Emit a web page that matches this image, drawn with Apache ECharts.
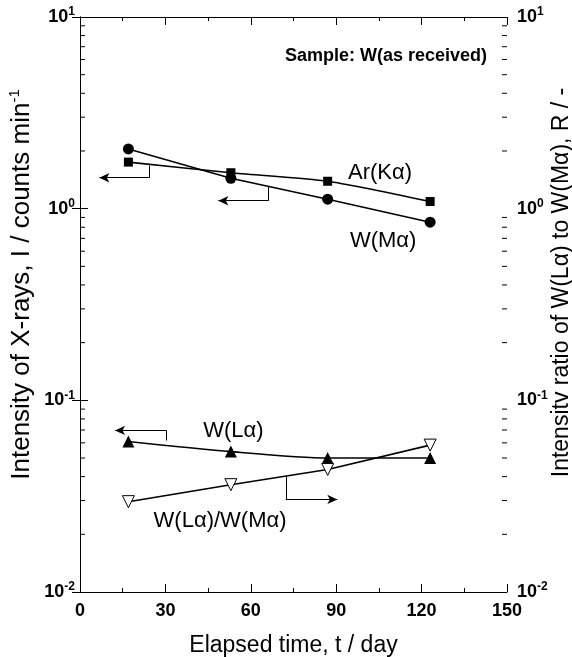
<!DOCTYPE html>
<html>
<head>
<meta charset="utf-8">
<script src="https://cdn.jsdelivr.net/npm/echarts@6/dist/echarts.min.js"></script>
<style>html,body{margin:0;padding:0;background:#fff;}#c{width:572px;height:657px;}</style>
</head>
<body>
<div id="c"></div>
<script>
// ---- data ----
const days = [17, 53, 87, 123];
const wMa = [2.05, 1.44, 1.12, 0.85];
const arKa = [1.75, 1.54, 1.39, 1.09];
const wLa = [0.061, 0.054, 0.050, 0.050];
const ratioLaMa = [0.0296, 0.0363, 0.0436, 0.0584];
const xTicks = [0, 30, 60, 90, 120, 150];
const yTicks = [0.01, 0.1, 1, 10];
// arrows (polylines in data coords; last point is the arrow tip)
const arrowAr = [[24.3, 1.68], [24.3, 1.45], [6.8, 1.45]];
const arrowWMa = [[66.3, 1.31], [66.3, 1.10], [48.6, 1.10]];
const arrowWLa = [[30.3, 0.0617], [30.3, 0.0697], [12.3, 0.0697]];
const arrowRatio = [[72.3, 0.0402], [72.3, 0.0304], [90.4, 0.0304]];
// annotation labels
const labelTexts = ['Ar(Kα)', 'W(Mα)', 'W(Lα)', 'W(Lα)/W(Mα)'];
const labelPos = [[105.4, 1.545], [106.5, 0.682], [53.9, 0.069], [49.2, 0.0234]];
const minorMult = [2, 3, 4, 5, 6, 7, 8, 9];
const minorDecades = [0.01, 0.1, 1];

const FONT = 'Liberation Sans, Arial, sans-serif';
const chart = echarts.init(document.getElementById('c'), null, {renderer: 'canvas'});

function pts(xs, ys) { return xs.map((x, i) => [x, ys[i]]); }
function arrowLines(poly) {
  const segs = [];
  for (let i = 0; i < poly.length - 1; i++) {
    const last = i === poly.length - 2;
    segs.push([
      {coord: poly[i], symbol: 'none'},
      {coord: poly[i + 1], symbol: last ? 'arrow' : 'none', symbolSize: last ? [7, 10] : 0}
    ]);
  }
  return segs;
}
const markLineBase = {
  silent: true, animation: false,
  lineStyle: {color: '#000', width: 1, type: 'solid'},
  label: {show: false}, emphasis: {disabled: true}
};
const minorVals = [];
minorDecades.forEach(d => minorMult.forEach(m => minorVals.push([0, m * d])));

function logLabel(v) {
  const e = Math.round(Math.log10(v));
  return '{b|10}{s|' + e + '}';
}
const labelRich = {
  b: {fontSize: 18, fontWeight: 'bold', fontFamily: FONT, color: '#000'},
  s: {fontSize: 12, fontWeight: 'bold', fontFamily: FONT, color: '#000', padding: [0, 0, 10, 0]}
};

const option = {
  animation: false,
  backgroundColor: '#fff',
  title: {
    text: 'Sample: W(as received)', right: 80, top: 42,
    textStyle: {fontSize: 18, fontWeight: 'bold', fontFamily: FONT, color: '#000'}
  },
  grid: {left: 80, right: 65, top: 17, bottom: 65, containLabel: false, outerBoundsMode: 'none'},
  xAxis: [{
    type: 'value', min: 0, max: 150, interval: 30, position: 'bottom',
    name: 'Elapsed time, t / day', nameLocation: 'middle', nameGap: 42, nameMoveOverlap: false,
    nameTextStyle: {fontSize: 23, fontFamily: FONT, color: '#000'},
    axisLine: {lineStyle: {color: '#000', width: 1}},
    axisTick: {inside: true, length: 8, lineStyle: {color: '#000'}},
    minorTick: {show: true, splitNumber: 2, length: 4, lineStyle: {color: '#000'}},
    splitLine: {show: false},
    axisLabel: {fontSize: 18, fontWeight: 'bold', fontFamily: FONT, color: '#000', margin: 10}
  }, {
    type: 'value', min: 0, max: 150, interval: 30, position: 'top',
    axisLine: {lineStyle: {color: '#000', width: 1}},
    axisTick: {inside: true, length: 8, lineStyle: {color: '#000'}},
    minorTick: {show: true, splitNumber: 2, length: 4, lineStyle: {color: '#000'}},
    splitLine: {show: false}, axisLabel: {show: false}
  }],
  yAxis: [{
    type: 'log', logBase: 10, min: 0.01, max: 10, splitNumber: 3, position: 'left',
    name: '{n|Intensity of X-rays, I / counts min}{s|-1}',
    nameLocation: 'middle', nameGap: 44, nameRotate: 90, nameMoveOverlap: false,
    nameTextStyle: {
      padding: [0, 0, 0, 40],
      rich: {
        n: {fontSize: 26, fontFamily: FONT, color: '#000'},
        s: {fontSize: 15, fontFamily: FONT, color: '#000', padding: [0, 0, 14, 0]}
      }
    },
    axisLine: {lineStyle: {color: '#000', width: 1}},
    axisTick: {inside: true, length: 8, lineStyle: {color: '#000'}},
    splitLine: {show: false},
    axisLabel: {formatter: logLabel, rich: labelRich, margin: 5}
  }, {
    type: 'log', logBase: 10, min: 0.01, max: 10, splitNumber: 3, position: 'right',
    name: 'Intensitv ratio of W(Lα) to W(Mα), R / -',
    nameLocation: 'middle', nameGap: 43, nameRotate: 90, nameMoveOverlap: false,
    nameTextStyle: {fontSize: 23, fontFamily: FONT, color: '#000', padding: [0, 0, 0, 44]},
    axisLine: {lineStyle: {color: '#000', width: 1}},
    axisTick: {inside: true, length: 8, lineStyle: {color: '#000'}},
    splitLine: {show: false},
    axisLabel: {formatter: logLabel, rich: labelRich, margin: 10}
  }],
  series: [{
    name: 'W(Mα)', type: 'line', data: pts(days, wMa),
    symbol: 'circle', symbolSize: 11,
    itemStyle: {color: '#000'}, lineStyle: {color: '#000', width: 1.6},
    markLine: Object.assign({data: arrowLines(arrowWMa)}, markLineBase)
  }, {
    name: 'Ar(Kα)', type: 'line', data: pts(days, arKa), smooth: 0.2,
    symbol: 'rect', symbolSize: 9,
    itemStyle: {color: '#000'}, lineStyle: {color: '#000', width: 1.6},
    markLine: Object.assign({data: arrowLines(arrowAr)}, markLineBase)
  }, {
    name: 'W(Lα)', type: 'line', data: pts(days, wLa), smooth: 0.25,
    symbol: 'triangle', symbolSize: 12,
    itemStyle: {color: '#000'}, lineStyle: {color: '#000', width: 1.6},
    markLine: Object.assign({data: arrowLines(arrowWLa)}, markLineBase)
  }, {
    name: 'W(Lα)/W(Mα)', type: 'line', yAxisIndex: 1, data: pts(days, ratioLaMa),
    symbol: 'triangle', symbolRotate: 180, symbolSize: 12,
    itemStyle: {color: '#fff', borderColor: '#000', borderWidth: 1},
    lineStyle: {color: '#000', width: 1.6}, z: 3,
    markLine: Object.assign({data: arrowLines(arrowRatio)}, markLineBase)
  }, {
    name: 'labels', type: 'scatter', symbolSize: 0, silent: true,
    data: labelPos.map((p, i) => ({value: p, name: labelTexts[i]})),
    label: {show: true, position: 'inside', formatter: p => p.name,
      fontSize: 22, fontFamily: FONT, color: '#000', textBorderWidth: 0, opacity: 1}
  }, {
    name: 'minorTicks', type: 'custom', silent: true, data: minorVals,
    renderItem: function (params, api) {
      const v = api.value(1);
      const pl = api.coord([0, v]);
      const pr = api.coord([150, v]);
      return {type: 'group', children: [
        {type: 'line', shape: {x1: pl[0], y1: pl[1], x2: pl[0] + 5, y2: pl[1]}, style: {stroke: '#000', lineWidth: 1}},
        {type: 'line', shape: {x1: pr[0], y1: pr[1], x2: pr[0] - 5, y2: pr[1]}, style: {stroke: '#000', lineWidth: 1}}
      ]};
    }
  }]
};
chart.setOption(option);
</script>
</body>
</html>
